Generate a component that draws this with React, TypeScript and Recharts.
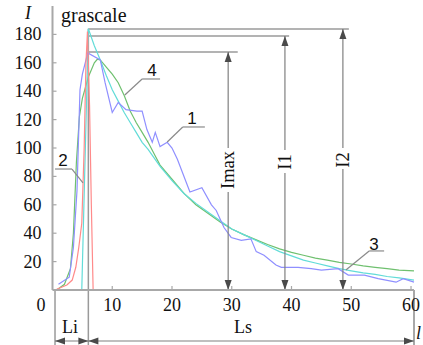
import React from 'react';
import { LineChart, Line, XAxis, YAxis, ReferenceLine } from 'recharts';

// ---- data ----
const curve1 = [
  { x: 1, y: 4 }, { x: 2.8, y: 9 }, { x: 3.5, y: 30 }, { x: 4.1, y: 70 }, { x: 4.6, y: 141 },
  { x: 5, y: 152 }, { x: 5.9, y: 167 }, { x: 8, y: 162 }, { x: 8.8, y: 146 }, { x: 10, y: 125 },
  { x: 11, y: 132 }, { x: 12.3, y: 127 }, { x: 14.1, y: 126 }, { x: 15, y: 126 }, { x: 15.8, y: 113 },
  { x: 16.7, y: 104 }, { x: 17.2, y: 111 }, { x: 18, y: 101 }, { x: 19.2, y: 104 }, { x: 20, y: 100 },
  { x: 20.9, y: 92 }, { x: 23, y: 69 }, { x: 25, y: 72 }, { x: 26.6, y: 60 }, { x: 27.4, y: 56 },
  { x: 28.7, y: 44 }, { x: 29.9, y: 37 }, { x: 31.6, y: 35 }, { x: 33.2, y: 36 }, { x: 34.1, y: 27 },
  { x: 35.4, y: 24.5 }, { x: 37.4, y: 17.6 }, { x: 38.3, y: 16 }, { x: 41.1, y: 16 }, { x: 43.3, y: 15 },
  { x: 45, y: 14 }, { x: 47.8, y: 15 }, { x: 49.5, y: 10.5 }, { x: 52.2, y: 10.5 }, { x: 54.5, y: 8 },
  { x: 57.5, y: 5.5 }, { x: 58.7, y: 8 }, { x: 60.5, y: 5.5 },
];
const curve2 = [
  { x: 0.7, y: 0.5 }, { x: 2.4, y: 3.5 }, { x: 3.3, y: 7 }, { x: 3.9, y: 16 }, { x: 4.4, y: 30 },
  { x: 4.9, y: 47 }, { x: 5.3, y: 100 }, { x: 5.6, y: 160 }, { x: 5.85, y: 182 }, { x: 6.2, y: 130 },
  { x: 6.5, y: 60 }, { x: 6.8, y: 0 },
];
const curve3 = [
  { x: 4.9, y: 0 }, { x: 6, y: 184 }, { x: 7, y: 172 }, { x: 8, y: 162 }, { x: 9, y: 151 },
  { x: 10, y: 141 }, { x: 11, y: 133 }, { x: 12, y: 125 }, { x: 13, y: 118 }, { x: 14, y: 111 },
  { x: 15, y: 104 }, { x: 16, y: 99 }, { x: 17, y: 93 }, { x: 18, y: 87 }, { x: 20, y: 77 },
  { x: 22, y: 68 }, { x: 24, y: 61 }, { x: 26, y: 55 }, { x: 28, y: 49 }, { x: 30, y: 43 },
  { x: 32, y: 39 }, { x: 34, y: 35 }, { x: 36, y: 31 }, { x: 38, y: 27 }, { x: 40, y: 24 },
  { x: 42, y: 21 }, { x: 44, y: 19 }, { x: 46, y: 17 }, { x: 48, y: 15 }, { x: 50, y: 13.5 },
  { x: 52, y: 12 }, { x: 54, y: 11 }, { x: 56, y: 9.5 }, { x: 58, y: 8.5 }, { x: 60.5, y: 7 },
];
const curve4 = [
  { x: 0.7, y: 0 }, { x: 2, y: 4 }, { x: 3, y: 15 }, { x: 3.5, y: 40 }, { x: 4, y: 90 },
  { x: 4.5, y: 122 }, { x: 5, y: 135 }, { x: 6, y: 150 }, { x: 7, y: 160 }, { x: 7.5, y: 162.5 },
  { x: 8, y: 162 }, { x: 9, y: 157 }, { x: 10, y: 152 }, { x: 11, y: 146 }, { x: 12, y: 137 },
  { x: 13, y: 126 }, { x: 14, y: 118 }, { x: 15, y: 111 }, { x: 16, y: 104 }, { x: 17, y: 96 },
  { x: 18, y: 88 }, { x: 20, y: 78 }, { x: 22, y: 68 }, { x: 24, y: 60 }, { x: 26, y: 54 },
  { x: 28, y: 48 }, { x: 30, y: 43 }, { x: 32, y: 39 }, { x: 34, y: 35.5 }, { x: 36, y: 32 },
  { x: 38, y: 29 }, { x: 40, y: 26.5 }, { x: 42, y: 24.5 }, { x: 44, y: 22.5 }, { x: 46, y: 21 },
  { x: 48, y: 19.5 }, { x: 50, y: 18.3 }, { x: 52, y: 17 }, { x: 54, y: 16 }, { x: 56, y: 15 },
  { x: 58, y: 14 }, { x: 60.5, y: 13.4 },
];

const xTicks = [0, 10, 20, 30, 40, 50, 60];
const xTopTicks = [10, 20, 30, 40, 50];
const yTicks = [20, 40, 60, 80, 100, 120, 140, 160, 180];

// intensity levels and arrow positions
const peakX = 6;
const levels = [
  { name: 'Imax', value: 167.6, arrowX: 29.4, endX: 31.0 },
  { name: 'I1', value: 178.9, arrowX: 38.9, endX: 39.6 },
  { name: 'I2', value: 183.8, arrowX: 48.6, endX: 49.6 },
];
const dimY = -35.9;
const dimBottom = -38.7;
const liStart = 0.42;
const lsEnd = 60.5;

// callout leaders: [elbow, end of horizontal, point on curve]
const leaders = [
  { label: '4', h1: { x: 15.0, y: 148.6 }, h2: { x: 18.0, y: 148.6 }, p: { x: 12.1, y: 137.3 } },
  { label: '1', h1: { x: 21.8, y: 114.8 }, h2: { x: 25.5, y: 114.8 }, p: { x: 19.2, y: 104.2 } },
  { label: '2', h1: { x: 3.26, y: 85.2 }, h2: { x: 0.42, y: 85.2 }, p: { x: 5.1, y: 75.4 } },
  { label: '3', h1: { x: 53.0, y: 27.5 }, h2: { x: 55.5, y: 27.5 }, p: { x: 49.1, y: 14.1 } },
];

const SERIF = '"Liberation Serif", "Times New Roman", serif';
const SANS = '"Liberation Sans", Arial, sans-serif';
const BORDER = '#a8a8a8';
const GUIDE = '#9a9a9a';
const HEAD = '#4a4a4a';

const serifStyle = { fontFamily: SERIF };
const sansStyle = { fontFamily: SANS };

const YTick = (p: any) => (
  <g>
    <line x1={p.x} y1={p.y} x2={p.x + 4} y2={p.y} stroke={BORDER} strokeWidth={1.2} />
    <text x={p.x - 11} y={p.y} textAnchor="end" dominantBaseline="central" style={serifStyle} fontSize={18} fill="#111">
      {p.payload.value}
    </text>
  </g>
);
const XTick = (p: any) => {
  const v = p.payload.value;
  return (
    <g>
      {v !== 0 && <line x1={p.x} y1={p.y} x2={p.x} y2={p.y - 4} stroke={BORDER} strokeWidth={1.2} />}
      <text x={v === 0 ? p.x - 11.5 : p.x} y={p.y + 15} textAnchor="middle" dominantBaseline="central" style={serifStyle} fontSize={18} fill="#111">
        {v}
      </text>
    </g>
  );
};
const TopTick = (p: any) => <line x1={p.x} y1={p.y} x2={p.x} y2={p.y + 4} stroke={BORDER} strokeWidth={1.2} />;
const RightTick = (p: any) => <line x1={p.x} y1={p.y} x2={p.x - 4} y2={p.y} stroke={BORDER} strokeWidth={1.2} />;

const head = (tx: number, ty: number, ux: number, uy: number) => {
  const L = 10, W = 3.5;
  const bx = tx - ux * L, by = ty - uy * L;
  return `${tx},${ty} ${bx - uy * W},${by + ux * W} ${bx + uy * W},${by - ux * W}`;
};
const ArrowShape = (p: any) => {
  const { x1, y1, x2, y2 } = p;
  const dx = x2 - x1, dy = y2 - y1;
  const len = Math.hypot(dx, dy) || 1;
  const ux = dx / len, uy = dy / len;
  return (
    <g>
      <line x1={x1} y1={y1} x2={x2} y2={y2} stroke="#808080" strokeWidth={1.2} />
      <polygon points={head(x2, y2, ux, uy)} fill={HEAD} />
      <polygon points={head(x1, y1, -ux, -uy)} fill={HEAD} />
    </g>
  );
};

export default function App() {
  return (
    <div style={{ position: 'absolute', left: 0, top: 0, width: 423, height: 345, background: '#fff' }}>
      <LineChart width={423} height={345} margin={{ top: 6, right: 9, bottom: 25, left: 0 }}>
        <XAxis
          dataKey="x"
          type="number"
          domain={[0, 60.5]}
          ticks={xTicks}
          interval={0}
          height={30}
          tickSize={0}
          tickMargin={0}
          tick={<XTick />}
          tickLine={false}
          axisLine={{ stroke: BORDER, strokeWidth: 2 }}
        />
        <XAxis
          xAxisId="top"
          orientation="top"
          dataKey="x"
          type="number"
          domain={[0, 60.5]}
          ticks={xTopTicks}
          interval={0}
          height={0}
          tickSize={0}
          tickMargin={0}
          tick={<TopTick />}
          tickLine={false}
          axisLine={{ stroke: BORDER, strokeWidth: 2 }}
        />
        <YAxis
          type="number"
          domain={[0, 200]}
          ticks={yTicks}
          interval={0}
          width={52.5}
          tickSize={0}
          tickMargin={0}
          tick={<YTick />}
          tickLine={false}
          axisLine={{ stroke: BORDER, strokeWidth: 2 }}
        />
        <YAxis
          yAxisId="right"
          orientation="right"
          type="number"
          domain={[0, 200]}
          ticks={yTicks}
          interval={0}
          width={0}
          tickSize={0}
          tickMargin={0}
          tick={<RightTick />}
          tickLine={false}
          axisLine={{ stroke: BORDER, strokeWidth: 2 }}
        />

        {/* guide lines */}
        <ReferenceLine segment={[{ x: peakX, y: 184 }, { x: peakX, y: dimBottom }]} stroke={GUIDE} strokeWidth={1.5} ifOverflow="visible" />
        {levels.map((l) => (
          <ReferenceLine key={'h' + l.name} segment={[{ x: peakX, y: l.value }, { x: l.endX, y: l.value }]} stroke={GUIDE} strokeWidth={1.5} ifOverflow="visible" />
        ))}
        <ReferenceLine segment={[{ x: liStart, y: 0 }, { x: liStart, y: dimBottom }]} stroke={GUIDE} strokeWidth={1.5} ifOverflow="visible" />
        <ReferenceLine segment={[{ x: lsEnd, y: 0 }, { x: lsEnd, y: dimBottom }]} stroke={BORDER} strokeWidth={2} ifOverflow="visible" />

        <Line data={curve4} dataKey="y" type="linear" stroke="#6fc06f" strokeWidth={1.2} dot={false} isAnimationActive={false} />
        <Line data={curve3} dataKey="y" type="linear" stroke="#62dcd8" strokeWidth={1.2} dot={false} isAnimationActive={false} />
        <Line data={curve1} dataKey="y" type="linear" stroke="#8f8fff" strokeWidth={1.2} dot={false} isAnimationActive={false} />
        <Line data={curve2} dataKey="y" type="linear" stroke="#ff8a8a" strokeWidth={1.2} dot={false} isAnimationActive={false} />

        {/* arrows */}
        {levels.map((l) => (
          <ReferenceLine key={'a' + l.name} segment={[{ x: l.arrowX, y: 0 }, { x: l.arrowX, y: l.value }]} ifOverflow="visible" shape={<ArrowShape />} />
        ))}
        <ReferenceLine segment={[{ x: liStart, y: dimY }, { x: peakX, y: dimY }]} ifOverflow="visible" shape={<ArrowShape />} />
        <ReferenceLine segment={[{ x: peakX, y: dimY }, { x: lsEnd, y: dimY }]} ifOverflow="visible" shape={<ArrowShape />} />

        {/* callout leaders */}
        {leaders.map((d) => (
          <ReferenceLine key={'l1' + d.label} segment={[d.h1, d.h2]} stroke="#8a8a8a" strokeWidth={1.2} ifOverflow="visible" />
        ))}
        {leaders.map((d) => (
          <ReferenceLine key={'l2' + d.label} segment={[d.h1, d.p]} stroke="#8a8a8a" strokeWidth={1.2} ifOverflow="visible" />
        ))}
      </LineChart>

      <svg width={423} height={345} style={{ position: 'absolute', left: 0, top: 0, pointerEvents: 'none' }}>
        <text x={28} y={19} textAnchor="middle" style={serifStyle} fontStyle="italic" fontSize={18} fill="#111">I</text>
        <text x={61} y={22} style={serifStyle} fontSize={20} fill="#111">grascale</text>
        <text x={416} y={339} style={serifStyle} fontStyle="italic" fontSize={18} fill="#111">l</text>
        <text x={70} y={327} textAnchor="middle" dominantBaseline="central" style={serifStyle} fontSize={18} fill="#111">Li</text>
        <text x={243} y={327} textAnchor="middle" dominantBaseline="central" style={serifStyle} fontSize={18} fill="#111">Ls</text>

        {/* Imax / I1 / I2 labels */}
        <g>
          <rect x={219} y={148} width={17} height={44} fill="#fff" />
          <text transform="translate(227.7,170) rotate(-90)" textAnchor="middle" dominantBaseline="central" style={serifStyle} fontSize={18.5} fill="#111">Imax</text>
          <rect x={276.5} y={150} width={17} height={23} fill="#fff" />
          <text transform="translate(285,162) rotate(-90)" textAnchor="middle" dominantBaseline="central" style={serifStyle} fontSize={18.5} fill="#111">I1</text>
          <rect x={334} y={148} width={17} height={21} fill="#fff" />
          <text transform="translate(342.5,160) rotate(-90)" textAnchor="middle" dominantBaseline="central" style={serifStyle} fontSize={18.5} fill="#111">I2</text>
        </g>

        <text x={152} y={70} textAnchor="middle" dominantBaseline="central" style={sansStyle} fontSize={17} fill="#111">4</text>
        <text x={192} y={118} textAnchor="middle" dominantBaseline="central" style={sansStyle} fontSize={17} fill="#111">1</text>
        <text x={63} y={160} textAnchor="middle" dominantBaseline="central" style={sansStyle} fontSize={17} fill="#111">2</text>
        <text x={374} y={244} textAnchor="middle" dominantBaseline="central" style={sansStyle} fontSize={17} fill="#111">3</text>
      </svg>
    </div>
  );
}
